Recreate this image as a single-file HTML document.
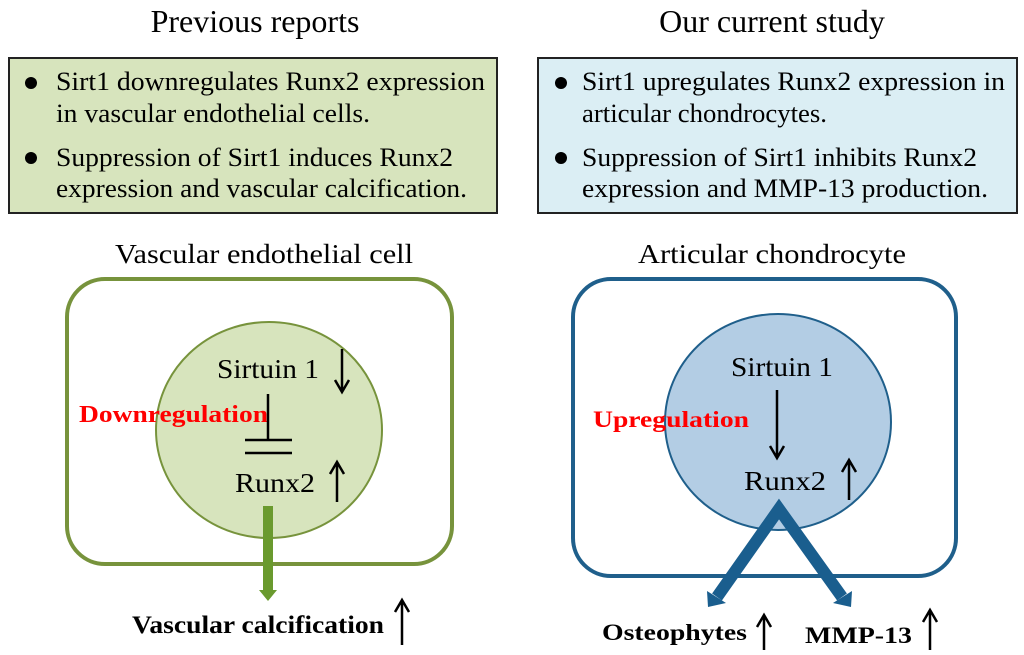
<!DOCTYPE html>
<html><head><meta charset="utf-8"><style>body{margin:0;background:#fff}svg{display:block}text{font-family:"Liberation Serif",serif}</style></head>
<body>
<svg width="1024" height="655" viewBox="0 0 1024 655" xmlns="http://www.w3.org/2000/svg">
<text x="255" y="32" font-size="32" text-anchor="middle">Previous reports</text>
<text x="772" y="32" font-size="32" text-anchor="middle">Our current study</text>

<rect x="9" y="58" width="488" height="155" fill="#d7e4bd" stroke="#222" stroke-width="2"/>
<circle cx="31" cy="83" r="6"/><circle cx="31" cy="158" r="6"/>
<g font-size="26">
<text x="56" y="90" textLength="429" lengthAdjust="spacingAndGlyphs">Sirt1 downregulates Runx2 expression</text>
<text x="56" y="122" textLength="314" lengthAdjust="spacingAndGlyphs">in vascular endothelial cells.</text>
<text x="56" y="166" textLength="397" lengthAdjust="spacingAndGlyphs">Suppression of Sirt1 induces Runx2</text>
<text x="56" y="197" textLength="411" lengthAdjust="spacingAndGlyphs">expression and vascular calcification.</text>
</g>

<rect x="538" y="58" width="479" height="155" fill="#dbeef4" stroke="#222" stroke-width="2"/>
<circle cx="561" cy="83" r="6"/><circle cx="561" cy="158" r="6"/>
<g font-size="26">
<text x="582" y="90" textLength="423" lengthAdjust="spacingAndGlyphs">Sirt1 upregulates Runx2 expression in</text>
<text x="582" y="122" textLength="245" lengthAdjust="spacingAndGlyphs">articular chondrocytes.</text>
<text x="582" y="166" textLength="395" lengthAdjust="spacingAndGlyphs">Suppression of Sirt1 inhibits Runx2</text>
<text x="582" y="197" textLength="406" lengthAdjust="spacingAndGlyphs">expression and MMP-13 production.</text>
</g>

<!-- left diagram -->
<text x="264" y="263" font-size="27" text-anchor="middle" textLength="298" lengthAdjust="spacingAndGlyphs">Vascular endothelial cell</text>
<rect x="67" y="279" width="385" height="285" rx="38" fill="none" stroke="#77933c" stroke-width="4"/>
<ellipse cx="269" cy="430" rx="113" ry="108" fill="#d7e4bd" stroke="#77933c" stroke-width="2"/>
<text x="217" y="378" font-size="27" textLength="102" lengthAdjust="spacingAndGlyphs">Sirtuin 1</text>
<text x="79" y="422" font-size="24" font-weight="bold" fill="#ff0000" textLength="189" lengthAdjust="spacingAndGlyphs">Downregulation</text>
<line x1="268" y1="394" x2="268" y2="440" stroke="#000" stroke-width="2.5"/>
<line x1="245" y1="440" x2="292" y2="440" stroke="#000" stroke-width="2.5"/>
<line x1="245" y1="453" x2="292" y2="453" stroke="#000" stroke-width="2.5"/>
<text x="235" y="492" font-size="27" textLength="80" lengthAdjust="spacingAndGlyphs">Runx2</text>
<rect x="263" y="506" width="10" height="86" fill="#6a9a2e"/>
<polygon points="259,590 277,590 268,601" fill="#6a9a2e"/>
<text x="132" y="633" font-size="25" font-weight="bold" textLength="252" lengthAdjust="spacingAndGlyphs">Vascular calcification</text>

<!-- right diagram -->
<text x="772" y="263" font-size="27" text-anchor="middle" textLength="268" lengthAdjust="spacingAndGlyphs">Articular chondrocyte</text>
<rect x="573" y="279" width="383" height="297" rx="38" fill="none" stroke="#1f5f8b" stroke-width="4"/>
<ellipse cx="778" cy="422" rx="113" ry="108" fill="#b3cde4" stroke="#1f5f8b" stroke-width="2"/>
<text x="731" y="376" font-size="27" textLength="102" lengthAdjust="spacingAndGlyphs">Sirtuin 1</text>
<text x="593" y="427" font-size="23" font-weight="bold" fill="#ff0000" textLength="156" lengthAdjust="spacingAndGlyphs">Upregulation</text>
<text x="744" y="490" font-size="27" textLength="82" lengthAdjust="spacingAndGlyphs">Runx2</text>
<polyline points="717,597 779,509 842,597" fill="none" stroke="#1a5e8e" stroke-width="12" stroke-linejoin="miter"/>
<polygon points="707,591 726,603 708,607" fill="#1a5e8e"/>
<polygon points="852,591 833,603 851,607" fill="#1a5e8e"/>
<text x="602" y="640" font-size="23" font-weight="bold" textLength="145" lengthAdjust="spacingAndGlyphs">Osteophytes</text>
<text x="805" y="643" font-size="23" font-weight="bold" textLength="107" lengthAdjust="spacingAndGlyphs">MMP-13</text>

<g stroke="#000" stroke-width="2.5" fill="none">
<path d="M342,349 V391 M335,380 L342,392 L349,380"/>
<path d="M337,502 V463 M330,474 L337,462 L344,474"/>
<path d="M402,645 V601 M395,612 L402,600 L409,612"/>
<path d="M777,390 V457 M770,446 L777,458 L784,446"/>
<path d="M849,500 V461 M842,472 L849,460 L856,472"/>
<path d="M764,650 V616 M757,627 L764,615 L771,627"/>
<path d="M930,650 V611 M923,622 L930,610 L937,622"/>
</g>
</svg>
</body></html>
